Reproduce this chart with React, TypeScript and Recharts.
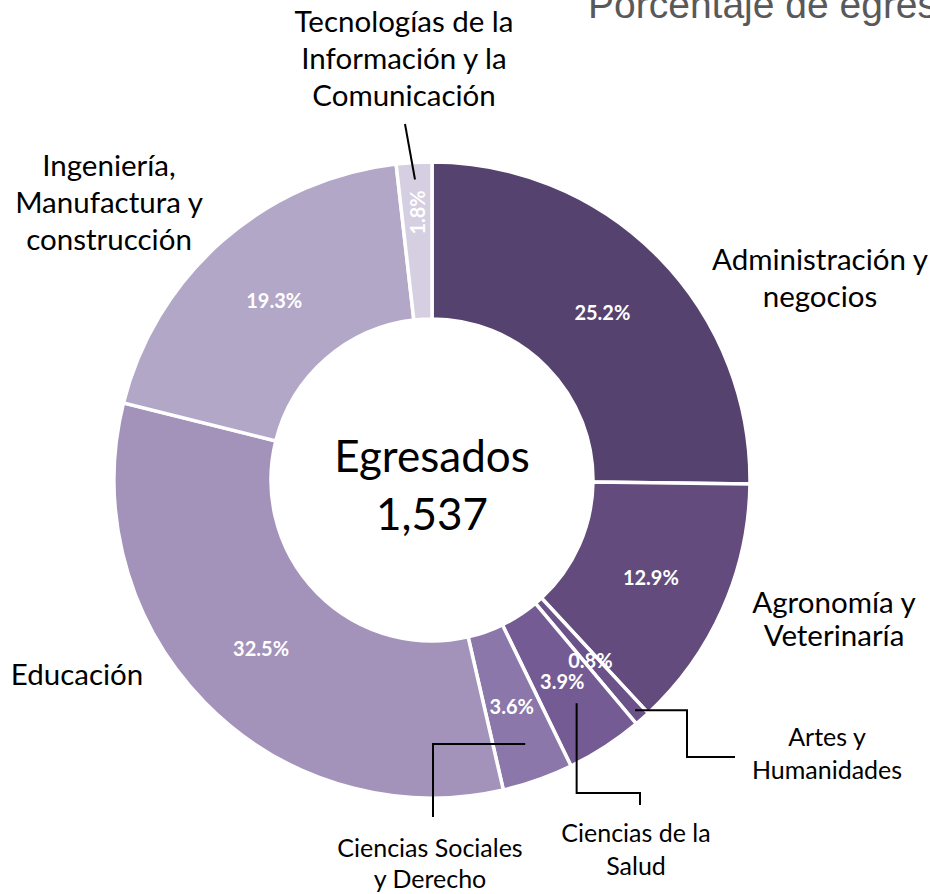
import React from 'react';
import { PieChart, Pie, Cell } from 'recharts';

const categories = [
  'Administración y negocios',
  'Agronomía y Veterinaría',
  'Artes y Humanidades',
  'Ciencias de la Salud',
  'Ciencias Sociales y Derecho',
  'Educación',
  'Ingeniería, Manufactura y construcción',
  'Tecnologías de la Información y la Comunicación',
];
const shares = [25.2, 12.9, 0.8, 3.9, 3.6, 32.5, 19.3, 1.8];
const labelLines = [
  ['Administración y', 'negocios'],
  ['Agronomía y', 'Veterinaría'],
  ['Artes y', 'Humanidades'],
  ['Ciencias de la', 'Salud'],
  ['Ciencias Sociales', 'y Derecho'],
  ['Educación'],
  ['Ingeniería,', 'Manufactura y', 'construcción'],
  ['Tecnologías de la', 'Información y la', 'Comunicación'],
];
const totalLabel = 'Egresados';
const totalGraduates = 1537;
const title = 'Porcentaje de egresados por campo de formación';

const colors = ['#56426e', '#634c7d', '#6b5288', '#745b94', '#8b77a9', '#a392ba', '#b3a7c7', '#d5cfe1'];

const data = categories.map((name, i) => ({ name, value: shares[i] }));

const FONT = 'Lato, "Noto Sans", sans-serif';
const RAD = Math.PI / 180;

// where each category name sits, and how its leader line runs from the slice
const nameLayout: any[] = [
  { x: 820, y: 270, dy: 37, size: 29.5 },
  { x: 834, y: 613, dy: 33, size: 29.5 },
  { x: 827, y: 746, dy: 33, size: 25, leader: { r: 307, path: 'H 687 V 757 H 735' } },
  { x: 636, y: 842, dy: 33, size: 25, leader: { r: 266, path: 'V 793 H 640 V 805' } },
  { x: 430, y: 857, dy: 31, size: 25, leader: { r: 280, path: 'H 433 V 817' } },
  { x: 77, y: 685, dy: 37, size: 29.5 },
  { x: 109, y: 176, dy: 37, size: 29.5 },
  { x: 404, y: 32, dy: 37, size: 29.5, leader: { r: 301, path: 'L 405 124' }, pctR: 268, rotate: true },
];

const polar = (cx: number, cy: number, r: number, deg: number) => ({
  x: cx + r * Math.cos(-deg * RAD),
  y: cy + r * Math.sin(-deg * RAD),
});

function renderLabel(props: any) {
  const { cx, cy, midAngle, innerRadius, outerRadius, index } = props;
  const lay = nameLayout[index];
  const p = polar(cx, cy, lay.pctR ?? (innerRadius + outerRadius) / 2, midAngle);
  let leader = null;
  if (lay.leader) {
    const s = polar(cx, cy, lay.leader.r, midAngle);
    leader = <path d={`M ${s.x} ${s.y} ${lay.leader.path}`} fill="none" stroke="#000" strokeWidth={2} />;
  }
  return (
    <g key={`lbl-${index}`}>
      {index === 0 && (
        <g fontFamily={FONT} fill="#000" textAnchor="middle" fontSize={44}>
          <text x={cx} y={cy - 8}>{totalLabel}</text>
          <text x={cx} y={cy + 50}>{totalGraduates.toLocaleString('en-US')}</text>
        </g>
      )}
      <text
        x={p.x}
        y={p.y}
        fill="#fff"
        fontFamily={FONT}
        fontWeight={700}
        fontSize={20}
        textAnchor="middle"
        dominantBaseline="central"
        transform={lay.rotate ? `rotate(-90 ${p.x} ${p.y})` : undefined}
      >
        {shares[index].toFixed(1)}%
      </text>
      {leader}
      <text x={lay.x} y={lay.y} fill="#000" fontFamily={FONT} fontSize={lay.size} textAnchor="middle">
        {labelLines[index].map((line, k) => (
          <tspan key={k} x={lay.x} dy={k === 0 ? 0 : lay.dy}>
            {line}
          </tspan>
        ))}
      </text>
    </g>
  );
}

export default function App() {
  return (
    <div style={{ position: 'absolute', left: 0, top: 0, width: 930, height: 894, background: '#fff', overflow: 'hidden' }}>
      <PieChart width={930} height={894} margin={{ top: 0, right: 0, bottom: 0, left: 0 }}>
        <Pie
          data={data}
          dataKey="value"
          nameKey="name"
          cx={432}
          cy={480}
          innerRadius={161}
          outerRadius={318}
          startAngle={90}
          endAngle={-270}
          stroke="#fff"
          strokeWidth={3.5}
          label={renderLabel}
          labelLine={false}
          isAnimationActive={false}
        >
          {data.map((d, i) => (
            <Cell key={d.name} fill={colors[i]} />
          ))}
        </Pie>
      </PieChart>
      <svg width={930} height={60} style={{ position: 'absolute', left: 0, top: 0 }}>
        <text x={588} y={18} fill="#595959" fontFamily='"Liberation Sans", Arial, sans-serif' fontSize={39}>
          {title}
        </text>
      </svg>
    </div>
  );
}
